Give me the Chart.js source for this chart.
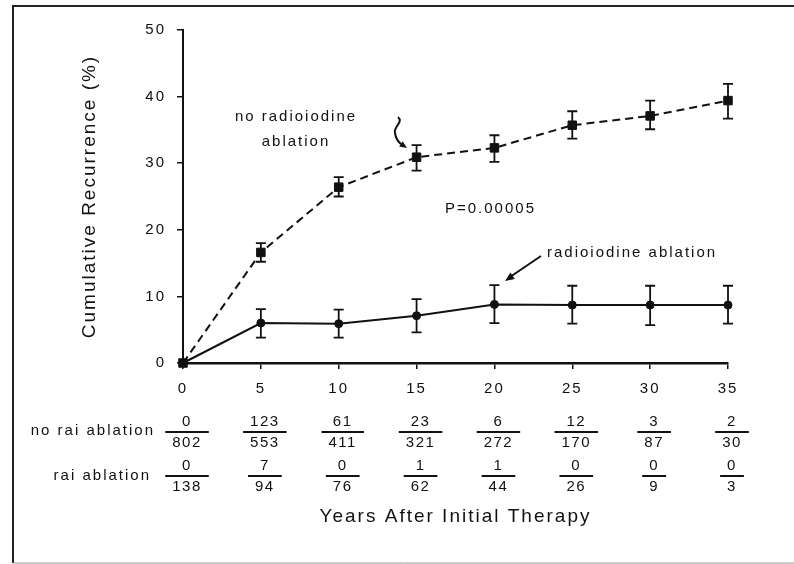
<!DOCTYPE html>
<html>
<head>
<meta charset="utf-8">
<script src="https://cdn.jsdelivr.net/npm/chart.js@4.4.1/dist/chart.umd.min.js"></script>
<style>
  html, body { margin: 0; padding: 0; background: #fff; }
  canvas { display: block; }
</style>
</head>
<body>
<canvas id="recurrence" width="794" height="564"></canvas>
<script>
// years after initial therapy
const years = [0, 5, 10, 15, 20, 25, 30, 35];

// cumulative recurrence (%) - no radioiodine ablation
const noRaiPct  = [0, 16.6, 26.4, 30.9, 32.3, 35.7, 37.1, 39.4];
const noRaiLow  = [0, 15.2, 25.0, 28.9, 30.2, 33.7, 35.1, 36.7];
const noRaiHigh = [0, 18.0, 27.9, 32.7, 34.2, 37.8, 39.4, 41.9];

// cumulative recurrence (%) - radioiodine ablation
const raiPct  = [0, 6.0, 5.9, 7.1, 8.8, 8.7, 8.7, 8.7];
const raiLow  = [0, 3.8, 3.8, 4.6, 6.0, 5.9, 5.7, 5.9];
const raiHigh = [0, 8.1, 8.0, 9.6, 11.7, 11.6, 11.6, 11.6];

// table under the axis: recurrences / patients at risk
const noRaiRecur  = [0, 123, 61, 23, 6, 12, 3, 2];
const noRaiAtRisk = [802, 553, 411, 321, 272, 170, 87, 30];
const raiRecur    = [0, 7, 0, 1, 1, 0, 0, 0];
const raiAtRisk   = [138, 94, 76, 62, 44, 26, 9, 3];

const ink = '#111';
const fontFamily = "'Liberation Sans', Arial, Helvetica, sans-serif";

function pts(ys) {
    return years.map((x, i) => ({ x: x, y: ys[i] }));
}

const pagePlugin = {
    id: 'page',
    beforeDraw(chart) {
        const ctx = chart.ctx;
        ctx.save();
        ctx.fillStyle = '#fff';
        ctx.fillRect(0, 0, chart.width, chart.height);
        // scanned frame
        ctx.strokeStyle = '#222';
        ctx.lineWidth = 2;
        ctx.beginPath();
        ctx.moveTo(13, 563);
        ctx.lineTo(13, 6);
        ctx.lineTo(794, 6);
        ctx.stroke();
        ctx.strokeStyle = '#999';
        ctx.lineWidth = 1;
        ctx.beginPath();
        ctx.moveTo(13, 563);
        ctx.lineTo(794, 563);
        ctx.stroke();
        ctx.restore();
        // the printed type is widely tracked
        ctx.letterSpacing = '2px';
    }
};

const errorBarPlugin = {
    id: 'errorBars',
    afterDatasetsDraw(chart) {
        const ctx = chart.ctx;
        const xs = chart.scales.x, ys = chart.scales.y;
        const sets = [[noRaiLow, noRaiHigh], [raiLow, raiHigh]];
        ctx.save();
        ctx.strokeStyle = ink;
        ctx.lineWidth = 1.8;
        sets.forEach(([lo, hi]) => {
            years.forEach((yr, i) => {
                if (hi[i] === lo[i]) return;
                const x = xs.getPixelForValue(yr);
                const y1 = ys.getPixelForValue(lo[i]);
                const y2 = ys.getPixelForValue(hi[i]);
                ctx.beginPath();
                ctx.moveTo(x, y1); ctx.lineTo(x, y2);
                ctx.moveTo(x - 5, y1); ctx.lineTo(x + 5, y1);
                ctx.moveTo(x - 5, y2); ctx.lineTo(x + 5, y2);
                ctx.stroke();
            });
        });
        ctx.restore();
    }
};

function arrowHead(ctx, x, y, ang, len) {
    ctx.beginPath();
    ctx.moveTo(x, y);
    ctx.lineTo(x - len * Math.cos(ang - 0.4), y - len * Math.sin(ang - 0.4));
    ctx.lineTo(x - len * Math.cos(ang + 0.4), y - len * Math.sin(ang + 0.4));
    ctx.closePath();
    ctx.fill();
}

const notesPlugin = {
    id: 'notes',
    afterDraw(chart) {
        const ctx = chart.ctx;
        const xs = chart.scales.x;
        ctx.save();
        ctx.letterSpacing = '2px';
        ctx.fillStyle = ink;
        ctx.strokeStyle = ink;
        ctx.textBaseline = 'middle';

        // curve labels
        ctx.font = '15px ' + fontFamily;
        ctx.textAlign = 'center';
        ctx.fillText('no radioiodine', 296, 117);
        ctx.fillText('ablation', 296, 142);
        ctx.textAlign = 'left';
        ctx.fillText('P=0.00005', 445, 209);
        ctx.fillText('radioiodine ablation', 547, 253);

        // squiggle arrow
        ctx.lineWidth = 2;
        ctx.beginPath();
        ctx.moveTo(398, 117);
        ctx.bezierCurveTo(404, 122, 393, 127, 395, 133);
        ctx.quadraticCurveTo(396, 140, 401, 144);
        ctx.stroke();
        arrowHead(ctx, 407, 148, 0.6, 8);

        // straight arrow
        ctx.beginPath();
        ctx.moveTo(541, 256);
        ctx.lineTo(510, 277);
        ctx.stroke();
        arrowHead(ctx, 505, 281, Math.atan2(21, -31), 10);

        // numbers table
        ctx.font = '15px ' + fontFamily;
        ctx.textAlign = 'right';
        ctx.fillText('no rai ablation', 155, 431);
        ctx.fillText('rai ablation', 151, 476);

        ctx.font = '15px ' + fontFamily;
        ctx.letterSpacing = '1.5px';
        ctx.textAlign = 'center';
        const rows = [
            [noRaiRecur, noRaiAtRisk, 432],
            [raiRecur, raiAtRisk, 476]
        ];
        rows.forEach(([top, bottom, lineY]) => {
            years.forEach((yr, i) => {
                const cx = xs.getPixelForValue(yr) + 4;
                const a = String(top[i]), b = String(bottom[i]);
                const w = Math.max(ctx.measureText(a).width, ctx.measureText(b).width) + 14;
                ctx.fillText(a, cx, lineY - 10);
                ctx.fillText(b, cx, lineY + 11);
                ctx.lineWidth = 2;
                ctx.beginPath();
                ctx.moveTo(cx - w / 2, lineY);
                ctx.lineTo(cx + w / 2, lineY);
                ctx.stroke();
            });
        });
        ctx.restore();
    }
};

new Chart(document.getElementById('recurrence'), {
    type: 'line',
    data: {
        datasets: [
            {
                label: 'no radioiodine ablation',
                data: pts(noRaiPct),
                borderColor: ink,
                backgroundColor: ink,
                borderWidth: 2,
                borderDash: [8, 5],
                pointStyle: 'rect',
                pointRadius: 6,
                pointBorderWidth: 1,
                clip: false
            },
            {
                label: 'radioiodine ablation',
                data: pts(raiPct),
                borderColor: ink,
                backgroundColor: ink,
                borderWidth: 2,
                pointStyle: 'circle',
                pointRadius: 4,
                pointBorderWidth: 1,
                clip: false
            }
        ]
    },
    options: {
        responsive: false,
        animation: false,
        devicePixelRatio: 1,
        layout: { padding: { left: 0, right: 66, top: 30, bottom: 0 } },
        plugins: {
            legend: { display: false },
            tooltip: { enabled: false }
        },
        scales: {
            x: {
                type: 'linear',
                min: 0,
                max: 35,
                afterFit(scale) { scale.height = 201; },
                border: { display: true, color: ink, width: 2.5 },
                grid: { drawOnChartArea: false, drawTicks: true, tickLength: 6, color: ink, lineWidth: 1.5 },
                ticks: {
                    stepSize: 5,
                    autoSkip: false,
                    maxRotation: 0,
                    padding: 11,
                    color: ink,
                    font: { size: 15, family: fontFamily }
                },
                title: {
                    display: true,
                    text: 'Years After Initial Therapy',
                    color: ink,
                    font: { size: 19, family: fontFamily },
                    padding: { top: 0, bottom: 36 }
                }
            },
            y: {
                min: 0,
                max: 50,
                afterFit(scale) { scale.width = 183; },
                border: { display: true, color: ink, width: 2 },
                grid: { drawOnChartArea: false, drawTicks: true, tickLength: 6, color: ink, lineWidth: 1.5 },
                ticks: {
                    stepSize: 10,
                    padding: 11,
                    color: ink,
                    font: { size: 15, family: fontFamily }
                },
                title: {
                    display: true,
                    text: 'Cumulative Recurrence (%)',
                    color: ink,
                    font: { size: 19, family: fontFamily },
                    padding: { top: 78, bottom: 0 }
                }
            }
        }
    },
    plugins: [pagePlugin, errorBarPlugin, notesPlugin]
});
</script>
</body>
</html>
